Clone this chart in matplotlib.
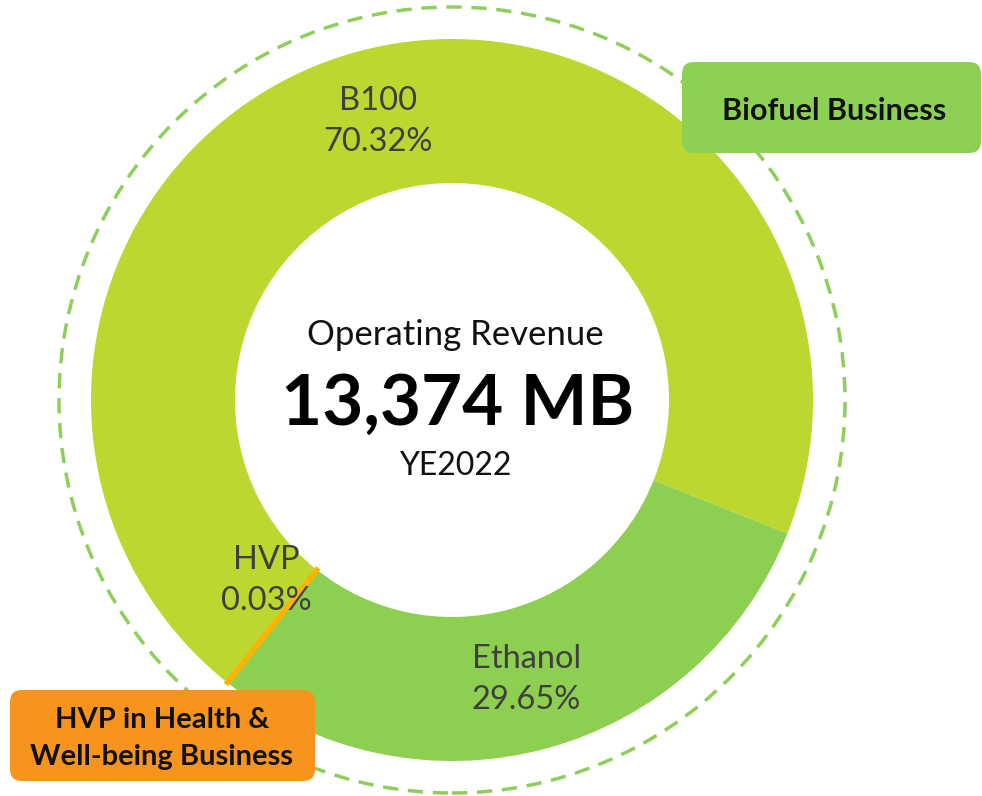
import numpy as np
import matplotlib
matplotlib.use("Agg")
import matplotlib.pyplot as plt
from matplotlib.patches import Circle, FancyBboxPatch

# DATA
segments = ["B100", "HVP", "Ethanol"]
shares = [70.32, 0.03, 29.65]          # % of operating revenue
seg_colors = ["#BDD731", "#FFB300", "#8DCF50"]
center_title = "Operating Revenue"
center_value = "13,374 MB"
center_year = "YE2022"
biofuel_label = "Biofuel Business"
hvp_label = ["HVP in Health &", "Well-being Business"]

plt.rcParams["font.family"] = ["Lato", "DejaVu Sans"]

W, H = 982, 796
fig = plt.figure(figsize=(W / 100, H / 100), dpi=100)
ax = fig.add_axes([0, 0, 1, 1])

# geometry in pixels (y measured from bottom)
cx, cy = 452, H - 400
r_out, r_in = 361, 217
start = -21.7

# dashed outer ring
ax.add_patch(Circle((cx, cy), 393, fill=False, edgecolor="#8DCF5A", lw=2.5,
                    linestyle=(0, (4.4, 2.8)), zorder=1))

wedges, _ = ax.pie(shares, colors=seg_colors, startangle=start, counterclock=True,
                   radius=r_out, center=(cx, cy),
                   wedgeprops=dict(width=r_out - r_in, linewidth=0))
# the HVP slice is too thin to see, draw it as an orange rib
wedges[1].set_edgecolor("#FFB300")
wedges[1].set_linewidth(3.5)
wedges[1].set_zorder(3)

# segment labels at mid-ring
r_mid = (r_out + r_in) / 2
cum = np.cumsum([0] + shares)
lab_col = "#3F3F3F"
for i, (name, pct) in enumerate(zip(segments, shares)):
    ang = np.radians(start + 360 * (cum[i] + cum[i + 1]) / 200)
    x = cx + r_mid * np.cos(ang)
    y = cy + r_mid * np.sin(ang)
    if name == "HVP":
        x, y = 266, H - 580
    ax.text(x, y + 20, name, ha="center", va="center", fontsize=23.5, color=lab_col, zorder=5)
    ax.text(x, y - 21, f"{pct:.2f}%", ha="center", va="center", fontsize=23.5, color=lab_col, zorder=5)

# centre text
ax.text(cx + 3, H - 345, center_title, ha="center", va="baseline", fontsize=25, color="#111111")
ax.text(cx + 6, H - 425, center_value, ha="center", va="baseline", fontsize=51,
        fontweight="bold", color="black")
ax.text(cx + 3, H - 475, center_year, ha="center", va="baseline", fontsize=23, color="#111111")

# business boxes
ax.add_patch(FancyBboxPatch((682, H - 153), 299, 91, boxstyle="round,pad=0,rounding_size=12",
                            facecolor="#8DD154", edgecolor="none", zorder=6))
ax.text(834, H - 120, biofuel_label, ha="center", va="baseline", fontsize=22,
        fontweight="bold", color="#111111", zorder=7)

ax.add_patch(FancyBboxPatch((10, H - 781), 305, 91, boxstyle="round,pad=0,rounding_size=12",
                            facecolor="#F7941E", edgecolor="none", zorder=6))
ax.text(162, H - 728, hvp_label[0], ha="center", va="baseline", fontsize=21,
        fontweight="bold", color="#111111", zorder=7)
ax.text(162, H - 765, hvp_label[1], ha="center", va="baseline", fontsize=21,
        fontweight="bold", color="#111111", zorder=7)

ax.set_xlim(0, W)
ax.set_ylim(0, H)
ax.set_aspect("auto")
ax.axis("off")

fig.savefig("out.png", dpi=100, facecolor="white")
